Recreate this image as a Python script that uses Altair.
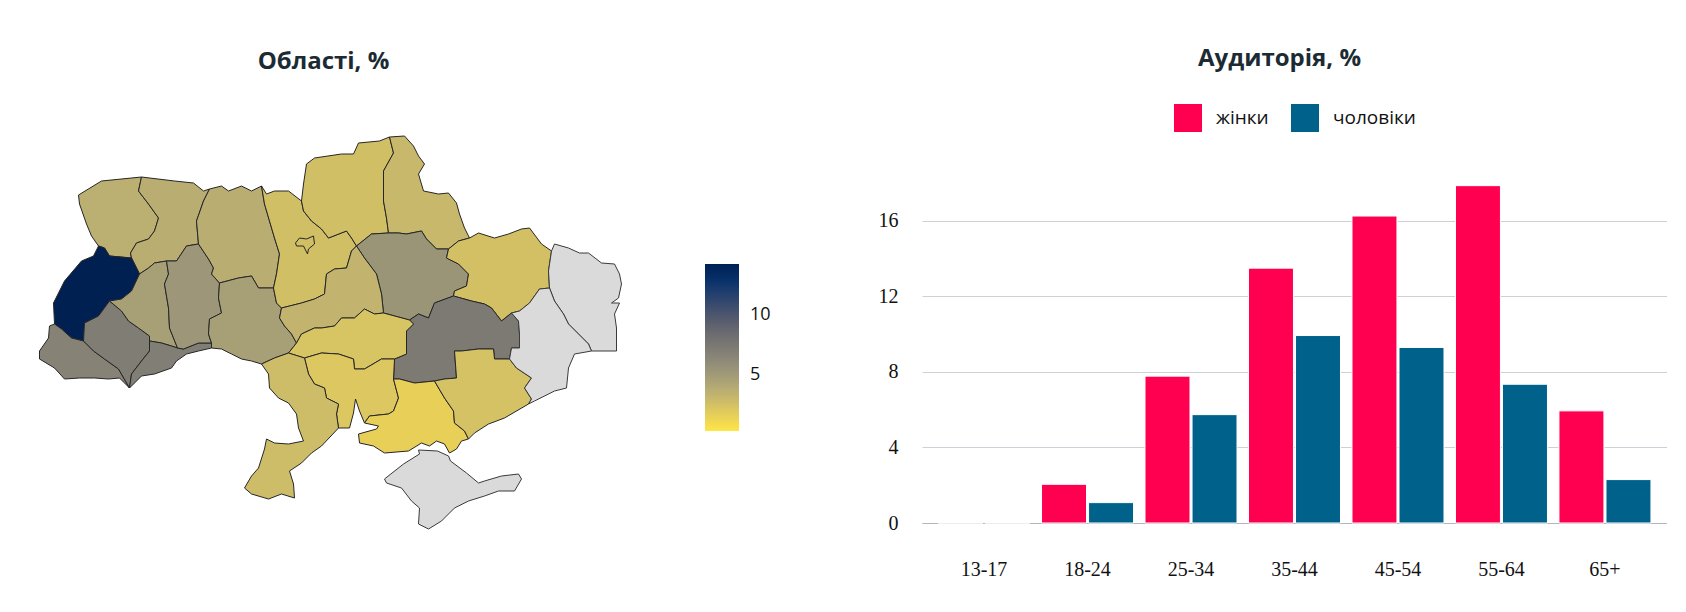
import altair as alt

# ---------------- bar chart data ----------------
age_groups = ["13-17", "18-24", "25-34", "35-44", "45-54", "55-64", "65+"]
women = [0, 2.05, 7.78, 13.5, 16.26, 17.87, 5.94]
men = [0, 1.08, 5.74, 9.93, 9.30, 7.35, 2.30]
sex_labels = ["жінки", "чоловіки"]
sex_colors = ["#ff0050", "#00628b"]
y_ticks = [0, 4, 8, 12, 16]

# ---------------- map data ----------------
region_names = [
    "Волинська", "Рівненська", "Львівська", "Закарпатська", "Івано-Франківська",
    "Тернопільська", "Чернівецька", "Хмельницька", "Житомирська", "Вінницька",
    "Київська", "Чернігівська", "Сумська", "Полтавська", "Черкаська", "Харківська",
    "Дніпропетровська", "Кіровоградська", "Миколаївська", "Одеська", "Херсонська",
    "Запорізька", "м. Київ",
]
region_values = [
    3.6, 3.7, 14.25, 6.7, 7.1,
    4.6, 7.0, 5.2, 3.7, 4.6,
    2.6, 2.6, 3.0, 5.3, 3.3, 2.5,
    7.3, 2.3, 2.1, 2.7, 1.6,
    2.4, 2.6,
]
nodata_names = ["Луганська", "Донецька", "АР Крим"]
legend_values = [5, 10]
color_domain = [0.28, 14.25]

# simplified oblast outlines, pre-projected planar coordinates (x east, y south)
region_outlines = {
    "Волинська": [(77,194),(100,180),(140,176),(137,190),(147,203),(157,217),(153,230),(147,238),(135,242),(129,252),(130,257),(108,255),(103,247),(97,245),(90,235),(85,223),(78,203)],
    "Рівненська": [(140,176),(173,180),(192,182),(202,190),(208,188),(202,200),(195,220),(197,243),(185,245),(175,260),(165,260),(153,262),(147,267),(138,273),(130,257),(129,252),(135,242),(147,238),(153,230),(157,217),(147,203),(137,190)],
    "Львівська": [(97,245),(103,247),(108,255),(130,257),(138,273),(130,290),(120,298),(108,300),(97,315),(83,322),(82,340),(70,337),(60,328),(53,323),(52,302),(63,280),(80,260),(92,255)],
    "Закарпатська": [(53,323),(60,328),(70,337),(82,340),(92,350),(103,358),(117,368),(128,387),(118,377),(107,378),(93,377),(78,377),(63,378),(53,367),(38,358),(38,350),(47,337),(48,325)],
    "Івано-Франківська": [(108,300),(120,310),(127,320),(137,327),(148,335),(148,340),(148,350),(140,360),(130,373),(128,387),(117,368),(103,358),(92,350),(82,340),(83,322),(97,315)],
    "Тернопільська": [(138,273),(147,267),(153,262),(165,260),(167,273),(163,283),(167,307),(168,327),(176,347),(170,345),(160,342),(148,340),(148,335),(137,327),(127,320),(120,310),(108,300),(120,298),(130,290)],
    "Чернівецька": [(148,340),(160,342),(170,345),(176,347),(182,348),(197,342),(210,342),(210,347),(197,350),(185,353),(175,360),(170,367),(153,373),(140,375),(128,387),(130,373),(140,360),(148,350)],
    "Хмельницька": [(165,260),(175,260),(185,245),(197,243),(207,258),(212,267),(210,273),(218,282),(217,297),(220,312),(208,318),(207,333),(210,342),(197,342),(182,348),(176,347),(168,327),(167,307),(163,283),(167,273)],
    "Житомирська": [(197,243),(195,220),(202,200),(208,188),(220,185),(227,190),(240,185),(250,190),(260,185),(263,203),(268,220),(273,237),(278,253),(275,273),(272,287),(257,287),(250,275),(237,277),(218,282),(210,273),(212,267),(207,258)],
    "Вінницька": [(218,282),(237,277),(250,275),(257,287),(272,287),(275,302),(280,307),(278,317),(283,325),(290,333),(295,342),(287,352),(273,357),(260,363),(250,360),(240,358),(230,353),(220,348),(210,347),(210,342),(207,333),(208,318),(220,312),(217,297)],
    "Київська": [(260,185),(265,193),(273,190),(287,190),(300,200),(302,210),(310,220),(320,228),(327,237),(345,230),(350,237),(355,245),(350,250),(345,267),(333,268),(325,273),(323,293),(313,298),(300,302),(288,305),(280,307),(275,302),(272,287),(275,273),(278,253),(273,237),(268,220),(263,203)],
    "м. Київ": [(294,242),(298,237),(305,238),(312,235),(313,243),(307,248),(306,253),(302,245),(295,245)],
    "Чернігівська": [(300,200),(302,183),(305,163),(313,157),(340,153),(352,153),(357,142),(378,140),(388,136),(392,152),(382,170),(382,200),(385,217),(387,232),(370,233),(355,245),(350,237),(345,230),(327,237),(320,228),(310,220),(302,210)],
    "Сумська": [(388,136),(403,135),(412,145),(417,155),(423,163),(417,173),(422,190),(437,193),(447,192),(455,202),(458,213),(463,227),(468,237),(457,240),(447,248),(435,248),(425,238),(420,230),(405,233),(397,232),(387,232),(385,217),(382,200),(382,170),(392,152)],
    "Полтавська": [(355,245),(370,233),(387,232),(397,232),(405,233),(420,230),(425,238),(435,248),(447,248),(445,257),(457,263),(467,273),(465,285),(453,290),(452,295),(433,302),(427,317),(417,313),(408,319),(382,312),(380,293),(375,273),(363,257)],
    "Черкаська": [(280,307),(288,305),(300,302),(313,298),(323,293),(325,273),(333,268),(345,267),(350,250),(355,245),(363,257),(375,273),(380,293),(382,312),(373,313),(363,308),(353,317),(340,317),(333,325),(320,327),(313,327),(300,333),(295,342),(290,333),(283,325),(278,317)],
    "Харківська": [(447,248),(457,240),(468,237),(477,232),(493,237),(507,233),(520,228),(528,227),(540,243),(550,250),(547,270),(548,287),(538,288),(528,302),(518,310),(510,312),(500,320),(490,307),(483,303),(470,300),(452,295),(453,290),(465,285),(467,273),(457,263),(445,257)],
    "Луганська": [(550,250),(553,243),(567,247),(578,252),(587,252),(600,262),(613,263),(618,273),(620,283),(617,297),(610,302),(618,302),(613,313),(615,327),(615,350),(590,350),(587,343),(577,333),(567,323),(562,313),(553,300),(548,287),(547,270)],
    "Донецька": [(548,287),(553,300),(562,313),(567,323),(577,333),(587,343),(590,350),(573,353),(567,367),(565,387),(553,390),(533,400),(527,403),(530,398),(523,387),(530,377),(515,367),(508,358),(510,347),(518,347),(518,333),(517,320),(510,312),(518,310),(528,302),(538,288)],
    "Дніпропетровська": [(408,319),(417,313),(427,317),(433,302),(452,295),(470,300),(483,303),(490,307),(500,320),(510,312),(517,320),(518,333),(518,347),(510,347),(508,358),(493,358),(492,348),(477,348),(460,350),(453,350),(455,377),(443,378),(433,380),(413,382),(398,378),(392,378),(393,358),(405,353),(405,330),(412,323)],
    "Кіровоградська": [(295,342),(300,333),(313,327),(320,327),(333,325),(340,317),(353,317),(363,308),(373,313),(382,312),(408,319),(412,323),(405,330),(405,353),(393,358),(380,358),(363,368),(353,368),(352,358),(337,353),(320,352),(303,357),(287,352)],
    "Миколаївська": [(303,357),(320,352),(337,353),(352,358),(353,368),(363,368),(380,358),(393,358),(392,378),(397,397),(392,410),(387,413),(368,415),(363,422),(358,410),(354,398),(352,412),(348,427),(337,427),(335,413),(337,403),(325,397),(323,387),(313,383),(307,373)],
    "Одеська": [(260,363),(273,357),(287,352),(303,357),(307,373),(313,383),(323,387),(325,397),(337,403),(335,413),(337,427),(320,445),(310,452),(300,462),(288,470),(292,483),(293,497),(280,493),(267,498),(250,493),(243,487),(250,475),(257,467),(263,448),(265,438),(273,442),(287,443),(302,440),(297,427),(295,413),(287,402),(277,397),(268,387),(267,373)],
    "Херсонська": [(392,378),(398,378),(413,382),(433,380),(443,397),(452,410),(453,422),(463,430),(467,438),(460,440),(455,448),(448,452),(443,443),(435,440),(428,445),(420,442),(407,450),(383,452),(372,445),(358,442),(357,433),(375,428),(377,425),(363,422),(368,415),(387,413),(392,410),(397,397)],
    "Запорізька": [(433,380),(443,378),(455,377),(453,350),(460,350),(477,348),(492,348),(493,358),(508,358),(515,367),(530,377),(523,387),(530,398),(527,403),(503,417),(487,423),(473,432),(467,438),(463,430),(453,422),(452,410),(443,397)],
    "АР Крим": [(417,449),(436,450),(447,455),(449,460),(465,472),(477,482),(483,480),(500,475),(517,473),(520,478),(513,490),(497,490),(483,495),(467,500),(453,507),(440,520),(427,528),(417,523),(418,507),(410,500),(400,487),(385,482),(383,478),(402,463),(418,453)],
}


def make_feature(name, value=None):
    ring = [list(p) for p in region_outlines[name]]
    ring.append(ring[0])
    props = {"name": name}
    if value is not None:
        props["value"] = value
    return {"type": "Feature", "properties": props,
            "geometry": {"type": "Polygon", "coordinates": [ring]}}


data_features = [make_feature(n, v) for n, v in zip(region_names, region_values)]
nodata_features = [make_feature(n) for n in nodata_names]

TITLE_FONT = "Open Sans"
TITLE_COLOR = "#1c2b33"

map_values = alt.Chart(alt.Data(values=data_features)).mark_geoshape(
    stroke="#262626", strokeWidth=1
).encode(
    color=alt.Color(
        "properties.value:Q",
        title=None,
        scale=alt.Scale(scheme="cividis", reverse=True, domain=color_domain),
        legend=alt.Legend(
            orient="none", legendX=666, legendY=128, direction="vertical",
            gradientLength=167, gradientThickness=34, gradientStrokeWidth=0,
            values=legend_values, labelFont="Open Sans", labelFontSize=18,
            labelColor="#111111", labelOffset=11, padding=0,
        ),
    ),
    tooltip=[alt.Tooltip("properties.name:N", title="Область")],
).project(type="identity")

map_nodata = alt.Chart(alt.Data(values=nodata_features)).mark_geoshape(
    fill="#dadada", stroke="#3a3a3a", strokeWidth=1
).encode(
    tooltip=[alt.Tooltip("properties.name:N", title="Область")],
).project(type="identity")

map_chart = alt.layer(map_values, map_nodata).properties(
    width=583, height=393,
    title=alt.TitleParams(
        "Області, %", font=TITLE_FONT, fontSize=24, fontWeight="bold",
        color=TITLE_COLOR, frame="group", anchor="middle", dx=-7, offset=60,
    ),
)

# ---------------- bar chart ----------------
bar_rows = []
for i, a in enumerate(age_groups):
    bar_rows.append({"age": a, "sex": sex_labels[0], "value": women[i]})
    bar_rows.append({"age": a, "sex": sex_labels[1], "value": men[i]})

bars = alt.Chart(alt.Data(values=bar_rows)).mark_bar(
    stroke="#ffffff", strokeWidth=1
).encode(
    x=alt.X(
        "age:N", sort=age_groups,
        scale=alt.Scale(paddingInner=0.111, paddingOuter=0.155),
        axis=alt.Axis(
            title=None, labelAngle=0, ticks=False, domain=True,
            domainColor="#b4b4c2", domainWidth=1, labelPadding=36,
            labelFont="Liberation Serif", labelFontSize=20, labelColor="#111111",
            grid=False,
        ),
    ),
    xOffset=alt.XOffset("sex:N", sort=sex_labels, scale=alt.Scale(paddingInner=0.0435)),
    y=alt.Y(
        "value:Q",
        scale=alt.Scale(domain=[0, 20.5], nice=False),
        axis=alt.Axis(
            values=y_ticks, title=None, domain=False, ticks=False,
            labelPadding=24, labelFont="Liberation Serif", labelFontSize=20,
            labelColor="#111111", gridColor="#cfcfd8", gridWidth=1,
        ),
    ),
    color=alt.Color(
        "sex:N", sort=sex_labels, title=None,
        scale=alt.Scale(domain=sex_labels, range=sex_colors),
        legend=alt.Legend(
            orient="none", legendX=252, legendY=-32, direction="horizontal",
            symbolType="square", symbolSize=784, symbolStrokeWidth=0,
            labelFont="Open Sans", labelFontSize=19, labelColor="#111111",
            labelOffset=14, columnPadding=22, padding=0,
        ),
    ),
    tooltip=["age:N", "sex:N", "value:Q"],
).properties(
    width=745, height=387,
    title=alt.TitleParams(
        "Аудиторія, %", font=TITLE_FONT, fontSize=24, fontWeight="bold",
        color=TITLE_COLOR, frame="group", anchor="middle", dx=-15, offset=33,
    ),
)

chart = alt.hconcat(map_chart, bars, spacing=107).properties(
    padding={"left": 29, "top": 39, "right": 0, "bottom": 0}
).configure_view(strokeWidth=0)

chart.save("out.html", embed_options={"renderer": "svg", "actions": False})
